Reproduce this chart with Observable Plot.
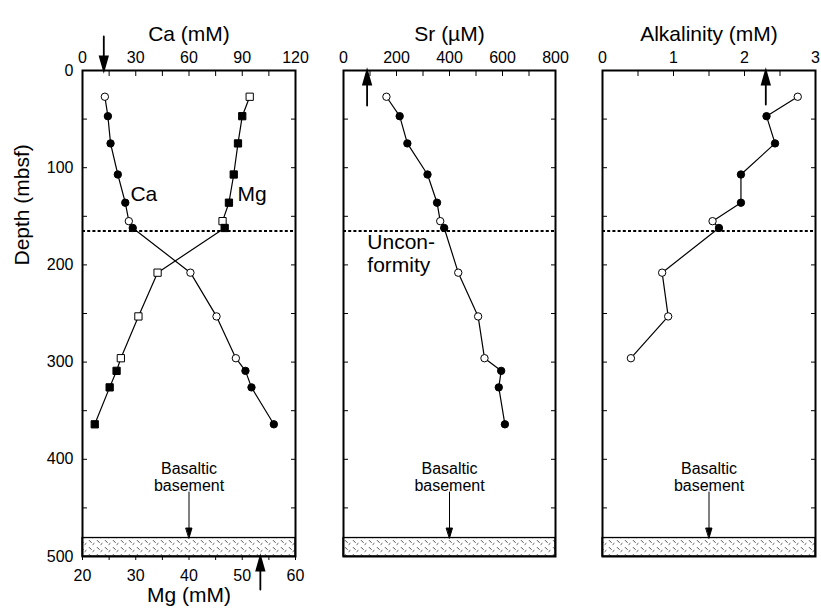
<!DOCTYPE html>
<html><head><meta charset="utf-8">
<script src="https://cdn.jsdelivr.net/npm/d3@7"></script>
<script src="https://cdn.jsdelivr.net/npm/@observablehq/plot@0.6"></script>
<style>
html,body{margin:0;padding:0;background:#fff;}
#chart{position:relative;width:821px;height:616px;overflow:hidden;background:#fff;}
#chart svg{position:absolute;left:0;top:0;}
</style></head><body><div id="chart"></div>
<script>
// ---- data ----
const depths     = [27, 47, 75, 107, 136, 155, 162, 208, 253, 296, 309, 326, 364];
const sampleKind = ["open","filled","filled","filled","filled","open","filled","open","open","open","filled","filled","filled"];
const caValues   = [12.6, 14.3, 15.8, 19.9, 24.1, 26.1, 28.3, 60.8, 75.5, 86.4, 91.8, 95.2, 107.8];
const mgValues   = [51.4, 50.0, 49.2, 48.4, 47.5, 46.3, 46.7, 34.1, 30.5, 27.2, 26.4, 25.1, 22.3];
const srValues   = [162, 212, 241, 317, 353, 365, 380, 433, 508, 532, 595, 586, 609];
const alkValues  = [2.75, 2.31, 2.43, 1.95, 1.95, 1.55, 1.64, 0.84, 0.925, 0.40];

const caSeawater = [12], mgSeawater = [53.4], srSeawater = [89], alkSeawater = [2.3];
const unconformityDepth = [165];
const basement = [{top: 481, bottom: 500}];
const basementLabelDepth = [418];

const caTicks = [0, 30, 60, 90, 120];
const mgTicks = [20, 30, 40, 50, 60];
const srTicks = [0, 200, 400, 600, 800];
const alkTicks = [0, 1, 2, 3];
const depthTicks = [0, 100, 200, 300, 400, 500];

const caLabel = [{x: 27, y: 127.5, t: "Ca"}];
const mgLabel = [{x: 49.1, y: 127.5, t: "Mg"}];
const unconfLabel = [{x: 90, y: 187.5, t: "Uncon-\nformity"}];

// ---- tables ----
const samples = depths.map((d, i) => ({depth: d, kind: sampleKind[i], ca: caValues[i], mg: mgValues[i], sr: srValues[i]}));
const alkSamples = alkValues.map((v, i) => ({depth: depths[i], kind: sampleKind[i], alk: v}));
const isOpen = d => d.kind === "open";
const isFilled = d => d.kind !== "open";

const W = 821, H = 616, MT = 70, MB = 60;
const font = "'Liberation Sans', Arial, Helvetica, sans-serif";
const style = {background: "transparent", fontFamily: font, fontSize: "16px", color: "black", overflow: "visible"};
const yScale = {domain: [0, 500], reverse: true};
const fmt = d => String(d);

const arrowShape = (hw, hl) => ({
  draw(context, l) {
    context.moveTo(0, 0);
    context.lineTo(0, -l + hl);
    context.moveTo(0, -l);
    context.lineTo(-hw, -l + hl);
    context.lineTo(hw, -l + hl);
    context.closePath();
  }
});
const seaArrow = arrowShape(4, 14);
const baseArrow = arrowShape(3, 10);

function depthFurniture(minorTicks) {
  return [
    Plot.rect(basement, {y1: "top", y2: "bottom", fill: "url(#basalt)", stroke: "black", strokeWidth: 1.3}),
    Plot.ruleY(unconformityDepth, {strokeDasharray: "3,2.2", strokeWidth: 2}),
    Plot.axisY({anchor: "left", ticks: d3.range(0, 501, 50), tickSize: -5, fill: "none", label: null}),
    Plot.axisY({anchor: "right", ticks: d3.range(0, 501, 50), tickSize: -5, fill: "none", label: null}),
    Plot.axisX({anchor: "top", ticks: minorTicks, tickSize: -5, fill: "none", label: null}),
    Plot.text(basementLabelDepth, {y: d => d, text: () => "Basaltic\nbasement", frameAnchor: "middle", lineHeight: 1.08, fontSize: 16}),
    Plot.vector(basement, {y: "top", frameAnchor: "middle", rotate: 180, anchor: "end", length: 46, shape: baseArrow, stroke: "black", fill: "black", strokeWidth: 1})
  ];
}

function profileMarks(data, key, symbol, r) {
  return [
    Plot.line(data, {x: key, y: "depth", stroke: "black", strokeWidth: 1.2}),
    Plot.dot(data.filter(isOpen), {x: key, y: "depth", symbol, r, fill: "white", stroke: "black", strokeWidth: 1}),
    Plot.dot(data.filter(isFilled), {x: key, y: "depth", symbol, r, fill: "black", stroke: "black", strokeWidth: 1})
  ];
}

const chart = document.getElementById("chart");

// Panel 1: Ca (top axis) + depth axis
const caPlot = Plot.plot({
  width: W, height: H, marginLeft: 82, marginRight: W - 295, marginTop: MT, marginBottom: MB,
  x: {domain: [0, 120]}, y: yScale, style,
  marks: [
    ...depthFurniture(d3.range(0, 121, 15)),
    Plot.axisX({anchor: "top", ticks: caTicks, tickFormat: fmt, tickSize: 0, tickPadding: 8, label: null}),
    Plot.axisY({anchor: "left", ticks: depthTicks, tickFormat: fmt, tickSize: 0, tickPadding: 9, label: null}),
    ...profileMarks(samples, "ca", "circle", 3.7),
    Plot.text(caLabel, {x: "x", y: "y", text: "t", textAnchor: "start", fontSize: 21}),
    Plot.text(["Ca (mM)"], {frameAnchor: "top", dy: -44, fontSize: 21}),
    Plot.text(["Depth (mbsf)"], {frameAnchor: "left", dx: -60, dy: -48, rotate: -90, fontSize: 21}),
    Plot.vector(caSeawater, {x: d => d, frameAnchor: "top", rotate: 180, anchor: "end", length: 34, shape: seaArrow, stroke: "black", fill: "black", strokeWidth: 1.8, strokeLinejoin: "miter"}),
    Plot.frame({strokeWidth: 2})
  ]
});
caPlot.insertAdjacentHTML("afterbegin",
  `<defs><pattern id="basalt" patternUnits="userSpaceOnUse" width="8" height="7">
     <path d="M1,1.2 L3.6,3.8 M4.6,5.8 L6.4,4.2" stroke="#333" stroke-width="0.9" fill="none"/>
   </pattern></defs>`);
chart.appendChild(caPlot);

// Panel 1 overlay: Mg (bottom axis)
const mgPlot = Plot.plot({
  width: W, height: H, marginLeft: 82, marginRight: W - 295, marginTop: MT, marginBottom: MB,
  x: {domain: [20, 60]}, y: {...yScale, axis: null}, style,
  marks: [
    Plot.axisX({anchor: "bottom", ticks: mgTicks, tickFormat: fmt, tickSize: 0, tickPadding: 13, label: null}),
    Plot.axisX({anchor: "bottom", ticks: d3.range(20, 61, 5), tickSize: 4, fill: "none", label: null}),
    ...profileMarks(samples, "mg", "square", 4.1),
    Plot.text(mgLabel, {x: "x", y: "y", text: "t", textAnchor: "start", fontSize: 21}),
    Plot.text(["Mg (mM)"], {frameAnchor: "bottom", dy: 45, fontSize: 21}),
    Plot.vector(mgSeawater, {x: d => d, frameAnchor: "bottom", rotate: 0, anchor: "end", length: 33, shape: seaArrow, stroke: "black", fill: "black", strokeWidth: 1.8, strokeLinejoin: "miter"})
  ]
});
chart.appendChild(mgPlot);

// Panel 2: Sr
const srPlot = Plot.plot({
  width: W, height: H, marginLeft: 343, marginRight: W - 555, marginTop: MT, marginBottom: MB,
  x: {domain: [0, 800]}, y: yScale, style,
  marks: [
    ...depthFurniture(d3.range(0, 801, 100)),
    Plot.axisX({anchor: "top", ticks: srTicks, tickFormat: fmt, tickSize: 0, tickPadding: 8, label: null}),
    ...profileMarks(samples, "sr", "circle", 3.7),
    Plot.text(unconfLabel, {x: "x", y: "y", text: "t", textAnchor: "start", fontSize: 21, lineHeight: 1.1}),
    Plot.text(["Sr (\u00b5M)"], {frameAnchor: "top", dy: -44, fontSize: 21}),
    Plot.vector(srSeawater, {x: d => d, frameAnchor: "top", rotate: 0, anchor: "end", length: 35, shape: seaArrow, stroke: "black", fill: "black", strokeWidth: 1.8, strokeLinejoin: "miter"}),
    Plot.frame({strokeWidth: 2})
  ]
});
chart.appendChild(srPlot);

// Panel 3: Alkalinity
const alkPlot = Plot.plot({
  width: W, height: H, marginLeft: 602, marginRight: W - 815, marginTop: MT, marginBottom: MB,
  x: {domain: [0, 3]}, y: yScale, style,
  marks: [
    ...depthFurniture(d3.range(0, 3.01, 0.5)),
    Plot.axisX({anchor: "top", ticks: alkTicks, tickFormat: fmt, tickSize: 0, tickPadding: 8, label: null}),
    ...profileMarks(alkSamples, "alk", "circle", 3.7),
    Plot.text(["Alkalinity (mM)"], {frameAnchor: "top", dy: -44, fontSize: 21}),
    Plot.vector(alkSeawater, {x: d => d, frameAnchor: "top", rotate: 0, anchor: "end", length: 34, shape: seaArrow, stroke: "black", fill: "black", strokeWidth: 1.8, strokeLinejoin: "miter"}),
    Plot.frame({strokeWidth: 2})
  ]
});
chart.appendChild(alkPlot);
</script></body></html>
